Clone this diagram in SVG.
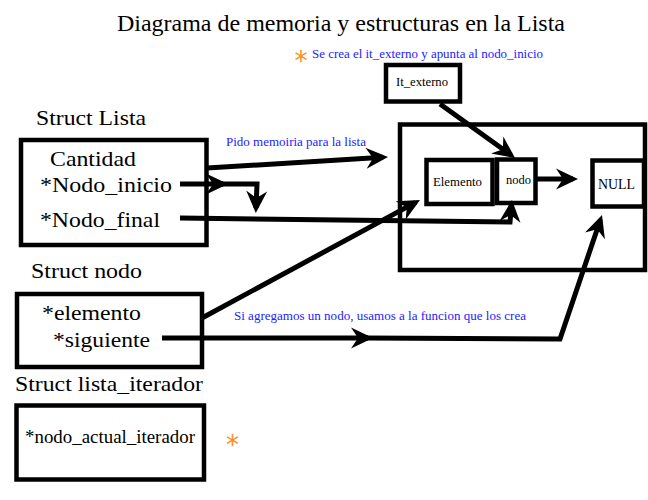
<svg xmlns="http://www.w3.org/2000/svg" width="648" height="500" viewBox="0 0 648 500">
<defs>
<style>
.t{font-family:"Liberation Serif","Times New Roman",serif;fill:#000}
.big{font-size:22px}
.sm{font-size:13px}
.note{font-family:"Liberation Serif","Times New Roman",serif;font-size:12px;fill:#2323ff}
.star{font-family:"DejaVu Sans",sans-serif;font-size:26px;fill:#ff8c1a}
.box{fill:#fff;stroke:#000;stroke-width:4.5}
.cn{fill:none;stroke:#000;stroke-width:5;stroke-linejoin:miter}
.ar{marker-end:url(#ah)}
</style>
<marker id="ah" markerUnits="userSpaceOnUse" viewBox="-24 -12 26 24" markerWidth="26" markerHeight="24" refX="-5" refY="0" orient="auto" overflow="visible">
<path d="M0,0 L-22,-10.5 L-15,0 L-22,10.5 Z" fill="#000"/>
</marker>
</defs>
<rect width="648" height="500" fill="#fff"/>

<text class="t" x="117" y="31" font-size="24" textLength="448" lengthAdjust="spacingAndGlyphs">Diagrama de memoria y estructuras en la Lista</text>

<g id="lista">
<text class="t big" x="36" y="125" textLength="110" lengthAdjust="spacingAndGlyphs">Struct Lista</text>
<rect class="box" x="21" y="140" width="185.5" height="105"/>
<text class="t big" x="50" y="166" textLength="86" lengthAdjust="spacingAndGlyphs">Cantidad</text>
<text class="t big" x="40" y="192" textLength="132" lengthAdjust="spacingAndGlyphs">*Nodo_inicio</text>
<text class="t big" x="40" y="227" textLength="120" lengthAdjust="spacingAndGlyphs">*Nodo_final</text>
</g>

<g id="nodo-struct">
<text class="t big" x="31" y="278" textLength="111" lengthAdjust="spacingAndGlyphs">Struct nodo</text>
<rect class="box" x="17" y="294" width="185" height="73"/>
<text class="t big" x="42" y="320" textLength="99" lengthAdjust="spacingAndGlyphs">*elemento</text>
<text class="t big" x="53" y="347" textLength="97" lengthAdjust="spacingAndGlyphs">*siguiente</text>
</g>

<g id="iterador">
<text class="t big" x="15" y="391" textLength="188" lengthAdjust="spacingAndGlyphs">Struct lista_iterador</text>
<rect class="box" x="16.5" y="405.5" width="187.5" height="74"/>
<text class="t" x="25" y="443" font-size="18" textLength="170" lengthAdjust="spacingAndGlyphs">*nodo_actual_iterador</text>
</g>

<g id="contenedor">
<rect class="box" x="400" y="124.5" width="245" height="145.5" stroke-width="5"/>
</g>

<g id="elemento">
<rect class="box" x="426.5" y="160" width="66" height="44" stroke-width="5"/>
<text class="t sm" x="433" y="186" textLength="49" lengthAdjust="spacingAndGlyphs">Elemento</text>
</g>

<g id="nodo">
<rect class="box" x="497" y="159.5" width="38.5" height="43.5" stroke-width="5"/>
<text class="t" x="506" y="184" font-size="12" textLength="25" lengthAdjust="spacingAndGlyphs">nodo</text>
</g>

<g id="null">
<rect class="box" x="592.5" y="160.5" width="51.5" height="46" stroke-width="5"/>
<text class="t" x="598" y="189" font-size="14" textLength="37" lengthAdjust="spacingAndGlyphs">NULL</text>
</g>

<g id="it_externo">
<rect class="box" x="386" y="65" width="74" height="36.5" stroke-width="4"/>
<text class="t sm" x="396" y="86" textLength="52" lengthAdjust="spacingAndGlyphs">It_externo</text>
</g>

<g id="connectors">
<path class="cn ar" d="M207,168 L383,157.3"/>
<path class="cn ar" d="M180,184 L223,184"/>
<path class="cn ar" d="M222,184 L257,184 L256,208"/>
<path class="cn ar" d="M180,218 L510,222 L511.5,205"/>
<path class="cn ar" d="M202,318 L415.6,202.4"/>
<path class="cn ar" d="M440,104 L511,155"/>
<path class="cn ar" d="M537,179 L573,179"/>
<path class="cn ar" d="M162,338 L368,338"/>
<path class="cn ar" d="M366,338 L560,339 L600.4,219.7"/>
</g>

<g id="notas">
<text class="star" x="294.5" y="69.5">*</text>
<text class="note" x="312" y="58" textLength="231" lengthAdjust="spacingAndGlyphs">Se crea el it_externo y apunta al nodo_inicio</text>
<text class="note" x="226" y="146" textLength="140" lengthAdjust="spacingAndGlyphs">Pido memoiria para la lista</text>
<text class="note" x="234" y="320" textLength="292" lengthAdjust="spacingAndGlyphs">Si agregamos un nodo, usamos a la funcion que los crea</text>
<text class="star" x="226" y="453.5">*</text>
</g>
</svg>
